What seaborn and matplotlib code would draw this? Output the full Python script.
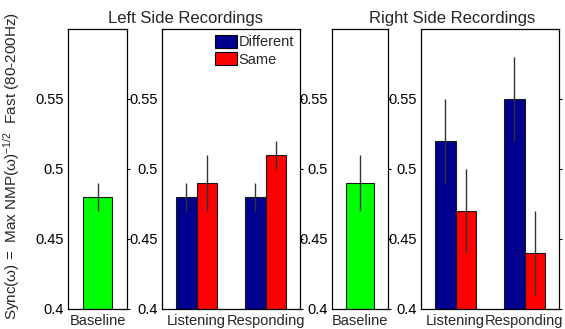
import matplotlib
matplotlib.use('Agg')
import matplotlib.pyplot as plt
import seaborn as sns
import pandas as pd

# data
conditions = ['Listening', 'Responding']
groups = ['Different', 'Same']

left_base = [0.48]
left_base_err = [0.01]
left_diff = [0.48, 0.48]
left_diff_err = [0.01, 0.01]
left_same = [0.49, 0.51]
left_same_err = [0.02, 0.01]

right_base = [0.49]
right_base_err = [0.02]
right_diff = [0.52, 0.55]
right_diff_err = [0.03, 0.03]
right_same = [0.47, 0.44]
right_same_err = [0.03, 0.03]

sns.set_style('white')
plt.rcParams['font.family'] = ['Liberation Sans', 'DejaVu Sans']
plt.rcParams['mathtext.fontset'] = 'custom'
plt.rcParams['mathtext.rm'] = 'Liberation Sans'
plt.rcParams['mathtext.it'] = 'Liberation Sans:italic'

colors = {'Different': '#00008F', 'Same': '#FF0000'}
green = '#00FF00'
edge = '#1a1a1a'
errc = '#333333'
fs = 10.5

fig = plt.figure(figsize=(5.65, 3.29), dpi=100)
H = 329.0
W = 565.0
bottom = 1 - 309 / H
height = (309 - 29) / H


def style_axis(ax):
    ax.set_ylim(0.4, 0.6)
    ax.set_yticks([0.4, 0.45, 0.5, 0.55])
    ax.set_yticklabels(['0.4', '0.45', '0.5', '0.55'])
    ax.set_xlabel('')
    ax.set_ylabel('')
    for s in ax.spines.values():
        s.set_color('black')
        s.set_linewidth(0.9)
    ax.tick_params(axis='y', left=False, right=True, direction='out', length=2,
                   labelsize=fs, pad=1, colors='black')
    ax.tick_params(axis='y', labelleft=True, labelright=False)
    ax.tick_params(axis='x', bottom=False, labelsize=fs, pad=0)


def base_panel(left, width, val, err):
    ax = fig.add_axes([left / W, bottom, width / W, height])
    df = pd.DataFrame({'cond': ['Baseline'], 'val': val})
    sns.barplot(data=df, x='cond', y='val', color=green, width=0.5,
                errorbar=None, edgecolor=edge, linewidth=0.8, saturation=1, ax=ax)
    for p, e in zip(ax.patches, err):
        cx = p.get_x() + p.get_width() / 2
        ax.errorbar(cx, p.get_height(), yerr=e, fmt='none', ecolor=errc,
                    elinewidth=1, capsize=0)
    ax.set_xlim(-0.5, 0.5)
    style_axis(ax)
    return ax


def group_panel(left, width, diff, diff_err, same, same_err, legend=False):
    ax = fig.add_axes([left / W, bottom, width / W, height])
    df = pd.DataFrame({
        'cond': conditions * 2,
        'group': ['Different'] * 2 + ['Same'] * 2,
        'val': diff + same,
    })
    sns.barplot(data=df, x='cond', y='val', hue='group', hue_order=groups,
                palette=colors, width=0.58, errorbar=None, edgecolor=edge,
                linewidth=0.8, saturation=1, ax=ax)
    for cont, errs in zip(ax.containers, [diff_err, same_err]):
        for p, e in zip(cont.patches, errs):
            cx = p.get_x() + p.get_width() / 2
            ax.errorbar(cx, p.get_height(), yerr=e, fmt='none', ecolor=errc,
                        elinewidth=1, capsize=0)
    ax.set_xlim(-0.5, 1.5)
    if legend:
        ax.legend(loc='upper right', frameon=False, fontsize=fs,
                  handlelength=1.5, handleheight=1.0, handletextpad=0.1,
                  labelspacing=0.2, borderaxespad=0.3, borderpad=0.1)
        for h in ax.get_legend().get_patches():
            h.set_edgecolor('black')
    else:
        if ax.get_legend() is not None:
            ax.get_legend().remove()
    style_axis(ax)
    return ax


base_panel(68, 59, left_base, left_base_err)
group_panel(162, 138, left_diff, left_diff_err, left_same, left_same_err, legend=True)
base_panel(332, 56, right_base, right_base_err)
group_panel(421, 138, right_diff, right_diff_err, right_same, right_same_err)

fig.text(185 / W, 1 - 18 / H, 'Left Side Recordings', ha='center', va='center', fontsize=12)
fig.text(452 / W, 1 - 18 / H, 'Right Side Recordings', ha='center', va='center', fontsize=12)
fig.text(12 / W, 1 - 166 / H,
         r'Sync(ω) =  Max NMP(ω)$^{-1/2}$  Fast (80-200Hz)',
         rotation=90, ha='center', va='center', fontsize=11)

fig.savefig('out.png', dpi=100)
